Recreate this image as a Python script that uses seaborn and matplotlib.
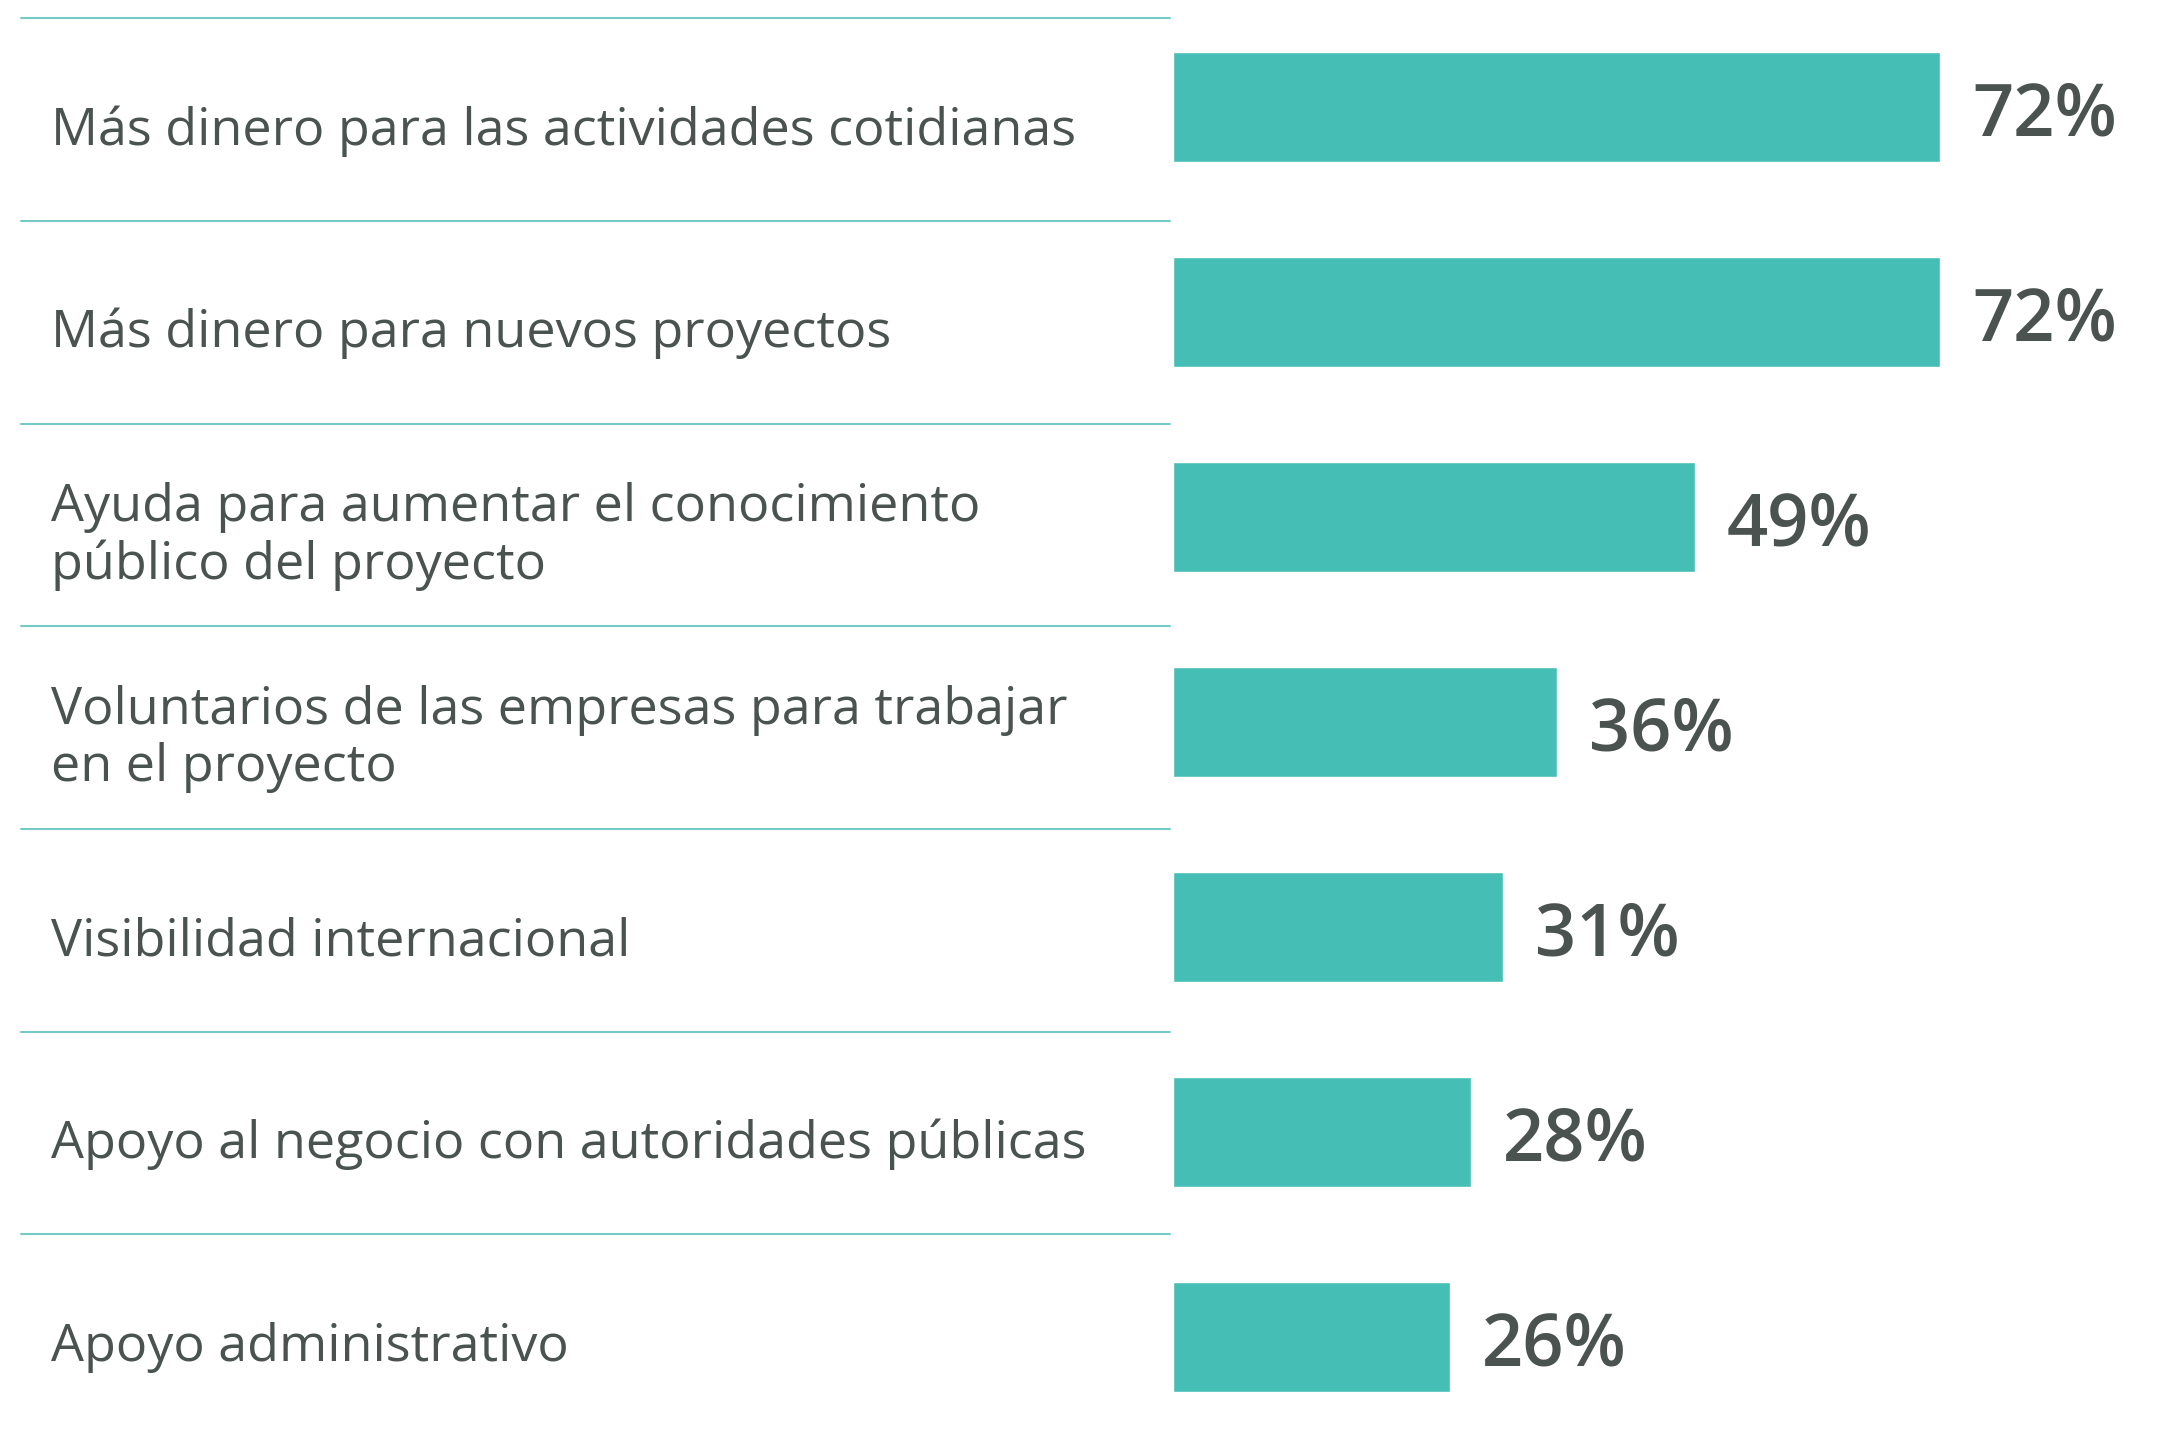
import matplotlib
matplotlib.use("Agg")
import matplotlib.pyplot as plt
import seaborn as sns
import pandas as pd

# === Data ===
labels = [
    "Más dinero para las actividades cotidianas",
    "Más dinero para nuevos proyectos",
    "Ayuda para aumentar el conocimiento\npúblico del proyecto",
    "Voluntarios de las empresas para trabajar\nen el proyecto",
    "Visibilidad internacional",
    "Apoyo al negocio con autoridades públicas",
    "Apoyo administrativo",
]
values = [72, 72, 49, 36, 31, 28, 26]
value_labels = ["72%", "72%", "49%", "36%", "31%", "28%", "26%"]

df = pd.DataFrame({"label": labels, "value": values})

BAR = "#45BFB6"
TEXT = "#4A5350"
RULE = "#74CBC6"

sns.set_theme(style="white")
plt.rcParams["font.family"] = ["Open Sans", "DejaVu Sans"]

fig = plt.figure(figsize=(21.77, 14.29), dpi=100)
ax = fig.add_axes([0, 0, 1, 1])

sns.barplot(data=df, x="value", y="label", orient="h", color=BAR,
            width=0.54, saturation=1, ax=ax)

ax.set_xlim(-110, 94.2)
ax.set_ylim(6.449, -0.522)
ax.axis("off")

# text rows sit on a slightly tighter pitch than the bars
pitch = 0.989

# row separators
for i in range(len(labels)):
    ax.axhline(-0.434 + i * pitch, xmin=21 / 2177, xmax=1170 / 2177,
               color=RULE, lw=1.5)

# category labels on the left
trans = ax.get_yaxis_transform()
for i, lab in enumerate(labels):
    ax.text(51 / 2177, 0.117 + i * pitch, lab, transform=trans, ha="left",
            va="center", fontsize=37.5, color=TEXT, linespacing=1.15)

# value labels
for i, (v, t) in enumerate(zip(values, value_labels)):
    ax.text(v + 3.0, i + 0.045, t, ha="left", va="center",
            fontsize=52, fontweight="semibold", color=TEXT)

fig.savefig("out.png", dpi=100)
